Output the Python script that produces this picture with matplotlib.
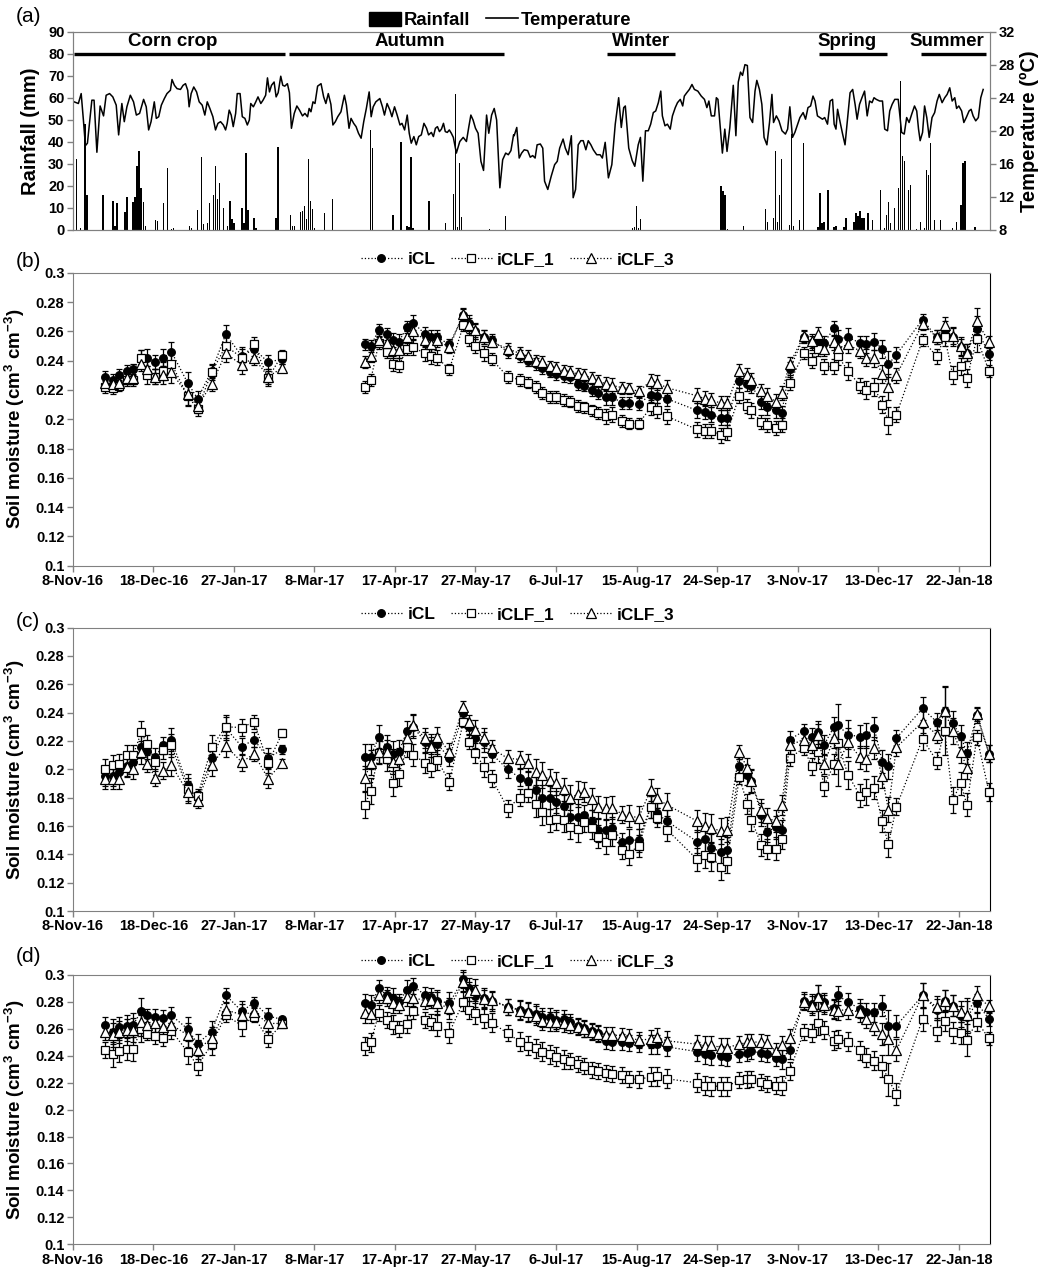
import datetime as dt
import numpy as np
import matplotlib
matplotlib.use("Agg")
import matplotlib.pyplot as plt
import matplotlib.dates as mdates
from matplotlib.patches import Patch
from matplotlib.lines import Line2D

plt.rcParams['font.family'] = ['Liberation Sans', 'DejaVu Sans']
plt.rcParams['font.weight'] = 'bold'
plt.rcParams['mathtext.fontset'] = 'custom'
plt.rcParams['mathtext.rm'] = 'Liberation Sans:bold'
plt.rcParams['mathtext.default'] = 'rm'

START = dt.date(2016, 11, 8)

# ---------------- panel (a) data: days since 8-Nov-16 ----------------
rain_day = [2, 4, 6, 7, 15, 20, 21, 22, 26, 27, 30, 31, 32, 33, 34, 35, 36, 41, 42, 45, 47, 49, 50,
            58, 59, 62, 64, 65, 67, 68, 70, 71, 72, 73, 75, 77, 78, 79, 80, 84, 85, 86, 87, 90, 91,
            101, 102, 108, 109, 110, 113, 114, 115, 116, 117, 118, 119, 120, 125, 129, 148, 149,
            159, 163, 166, 167, 168, 169, 177, 185, 189, 190, 191, 192, 193, 207, 215,
            278, 279, 280, 281, 282, 322, 323, 324, 325, 333, 344, 345, 348, 349, 350, 351, 352,
            356, 357, 358, 361, 363, 370, 371, 372, 373, 375, 378, 379, 383, 384, 388, 389, 390,
            391, 392, 393, 395, 397, 401, 403, 404, 405, 406, 408, 410, 411, 412, 413, 415, 416,
            419, 421, 423, 424, 425, 426, 428, 431, 437, 439, 441, 442, 443, 448]
rain_mm = [32, 1, 48, 16, 16, 13, 2, 12, 8, 15, 12.5, 15, 29, 36, 19, 12.5, 2, 4.5, 4, 12, 28, 0.5, 1,
           2, 1, 9, 33, 2.5, 3, 12, 16, 29, 14, 21.5, 10, 2, 13, 5, 3, 10, 3, 35, 9, 5.5, 1,
           5.5, 37.5, 7, 2, 2, 8, 8.5, 11, 5, 32, 13, 9.5, 1, 7.5, 14, 45.5, 37,
           7, 40, 2, 1.5, 33, 1, 13, 3, 16.5, 61.5, 1.5, 30.5, 6, 0.5, 6.5,
           0.8, 1.5, 11, 1, 5, 20, 17.5, 15.7, 0.3, 1.8, 9.6, 3.8, 5.3, 36, 3.8, 16, 32.4,
           2.3, 43.4, 2, 4.6, 39.6, 1.5, 16.7, 3, 3.8, 18.3, 1.5, 2, 1.5, 5.3, 3.8, 7.6, 6.1,
           8.4, 5.3, 5.6, 7.6, 4.4, 18.3, 1, 6.8, 12.9, 3, 9.9, 19, 67.7, 33.5, 31.2, 18.3, 20.5,
           0.5, 3.8, 0.8, 27.4, 25.1, 39.6, 4.6, 4.6, 0.8, 3.8, 11.1, 30.4, 31.5, 1.5]

temp_day = [0.7, 2.8, 4.2, 5.3, 6.3, 7.3, 8.6, 9.5, 10.6, 12.0, 13.6, 15.3, 16.6, 18.3, 19.9, 21.6,
            22.8, 24.4, 25.6, 26.9, 28.6, 30.2, 31.6, 33.2, 35.2, 36.5, 37.7, 38.9, 40.5, 41.5, 42.7,
            44.0, 45.5, 46.8, 48.5, 49.3, 50.5, 51.8, 53.5, 54.8, 56.0, 57.1, 57.8, 58.8, 60.1, 61.5,
            62.8, 64.3, 65.6, 66.8, 68.1, 69.6, 70.9, 72.1, 73.4, 74.8, 75.9, 76.7, 77.7, 78.7, 79.7,
            80.9, 81.7, 83.1, 84.2, 85.5, 86.7, 87.7, 88.4, 89.7, 90.9, 92.0, 93.4, 94.5, 95.8, 96.7,
            97.7, 98.7, 100.0, 101.0, 102.0, 103.3, 104.3, 105.3, 106.6, 107.6, 108.6, 110.0, 111.3,
            112.6, 114.1, 115.3, 116.6, 117.4, 118.3, 119.3, 120.3, 121.6, 123.3, 124.6, 125.7, 126.9,
            128.2, 129.2, 130.4, 131.6, 133.2, 134.9, 135.9, 137.2, 138.2, 139.5, 140.7, 141.9, 143.2,
            144.5, 145.8, 147.2, 148.2, 149.2, 150.5, 151.5, 152.5, 153.8, 154.8, 156.1, 157.5, 158.5,
            159.8, 161.1, 162.5, 163.5, 164.8, 166.1, 167.1, 168.1, 169.4, 170.6, 171.8, 173.1, 174.4,
            175.7, 176.7, 178.1, 179.1, 180.1, 181.1, 182.1, 183.1, 184.1, 185.0, 186.0, 187.0, 188.0,
            189.0, 190.5, 192.2, 193.9, 195.5, 196.7, 197.7, 198.8, 200.0, 201.3, 202.7, 204.0, 205.5,
            206.6, 208.0, 209.3, 210.5, 212.1, 213.5, 215.0, 216.3, 217.6, 218.9,
            219.2, 220.5, 221.7, 222.9, 224.2, 225.9, 227.2, 228.4, 229.6, 230.6, 232.2, 233.4, 234.3,
            235.9, 237.6, 239.3, 240.6, 241.8, 243.5, 244.6, 246.0, 247.6, 248.5, 249.7, 251.0, 252.3,
            253.5, 254.8, 256.0, 257.3, 258.5, 260.2, 261.9, 263.0, 264.4, 266.0, 267.7, 269.4, 271.1,
            272.4, 273.6, 274.4, 276.1, 277.8, 279.1, 280.8, 281.9, 283.1, 284.4, 285.8, 287.0, 288.3,
            289.5, 290.8, 292.0, 292.8, 294.1, 295.3, 296.7, 297.8, 299.2, 300.3, 301.7, 302.9, 303.7,
            304.9, 306.2, 307.5, 308.7, 310.4, 312.1, 313.7, 314.9, 315.9, 317.1, 318.7, 319.6, 320.4,
            321.6, 322.6, 323.8, 324.9, 326.3, 328.0, 329.3, 330.5, 331.6, 332.6, 333.8, 335.0, 336.3,
            337.6, 338.8, 339.7, 341.0, 342.2, 343.3, 344.7, 346.0, 347.2, 348.0, 349.4, 350.7, 352.2,
            353.9, 355.0, 356.1, 357.4, 358.6, 359.7, 361.1, 362.7, 363.9, 365.1, 366.4, 367.6, 368.6,
            369.8, 371.1, 372.3, 373.4, 374.8, 376.1, 377.3, 378.1, 379.0, 379.8, 381.1, 382.3, 383.5,
            384.8, 386.0, 387.3, 388.5, 389.5, 390.7, 391.9, 393.2, 394.5, 395.7, 396.9, 397.9, 399.0,
            400.7, 402.1, 403.2, 404.6, 405.7, 406.9, 408.2, 409.9, 411.6, 412.9, 414.1, 415.3, 416.6,
            418.0, 419.1, 420.0, 420.8, 422.0, 423.0, 424.1, 425.3, 426.7, 428.0, 429.2, 430.3, 431.7,
            433.0, 434.2, 435.5, 436.7, 438.0, 438.9, 440.0, 441.4, 442.5, 443.7, 445.1, 446.1, 447.1,
            448.4, 449.7, 450.9, 452.1]
temp_c = [23.5, 23.3, 24.5, 21.3, 18.2, 18.5, 21.5, 23.7, 23.7, 17.4, 23.0, 21.8, 24.3, 24.5, 24.1, 23.1,
          19.5, 23.3, 21.1, 22.9, 24.3, 23.5, 21.9, 22.1, 23.8, 22.9, 20.1, 21.1, 23.5, 21.5, 21.7,
          23.1, 23.9, 24.5, 24.9, 26.2, 25.5, 25.1, 25.0, 25.5, 25.7, 24.9, 22.9, 24.5, 25.3, 24.7,
          23.5, 23.1, 21.9, 23.5, 22.7, 21.7, 20.1, 20.9, 21.1, 20.7, 20.1, 20.9, 22.5, 21.9, 20.5,
          22.1, 24.5, 24.5, 21.7, 21.5, 20.7, 21.3, 23.3, 22.9, 23.5, 24.1, 23.3, 23.7, 24.3, 26.4,
          24.7, 25.5, 25.9, 24.1, 24.6, 26.6, 25.5, 25.4, 25.7, 24.6, 20.3, 22.1, 23.0,
          22.5, 21.8, 22.1, 21.7, 22.7, 22.3, 23.5, 23.3, 25.4, 25.7, 24.1, 23.3, 24.5,
          23.2, 20.7, 21.1, 21.7, 22.3, 24.3, 23.1, 20.3, 21.5, 20.9, 20.5, 19.7, 19.1,
          21.1, 22.7, 24.7, 21.7, 22.9, 23.5, 23.7, 23.9, 22.9, 21.9, 23.3, 22.5, 21.7,
          22.9, 21.9, 20.7, 20.9, 20.1, 21.9, 19.7, 18.5, 19.3, 18.3, 19.3, 19.5, 20.9,
          20.3, 19.5, 19.8, 19.3, 20.3, 20.5, 19.9, 20.2, 20.9, 19.9, 19.8, 20.1, 19.7,
          19.2, 17.3, 18.7, 19.2, 18.7, 20.5, 21.9, 21.3, 20.3, 19.7, 16.3, 15.2, 21.9,
          19.7, 21.9, 22.7, 21.3, 13.1, 16.5, 17.3, 17.1, 17.6, 19.5,
          19.4, 20.4, 16.7, 17.3, 17.7, 17.6, 16.8, 17.0, 16.7, 18.3, 18.4, 17.9, 13.9,
          12.9, 14.5, 15.9, 16.3, 17.9, 19.0, 17.9, 17.1, 19.4, 11.9, 12.9, 18.3, 18.8,
          18.8, 17.7, 18.8, 18.3, 17.7, 17.1, 17.1, 16.7, 18.6, 14.3, 15.9, 20.8, 24.0,
          20.4, 22.8, 23.0, 17.9, 16.4, 15.7, 18.3, 19.2, 13.9, 20.0, 20.0, 20.8, 22.2,
          22.4, 23.4, 24.8, 21.8, 20.6, 20.8, 20.2, 21.8, 22.8, 23.4, 23.8, 23.0, 24.2,
          24.6, 25.0, 25.6, 25.0, 24.8, 24.2, 23.8, 22.8, 23.6, 21.8, 21.8, 24.0, 23.8,
          20.2, 17.3, 20.2, 17.5, 20.4, 25.5, 19.4, 25.9, 27.1, 26.7, 28.0, 27.9, 21.6,
          21.0, 24.8, 26.1, 25.0, 23.2, 19.2, 18.3, 21.0, 24.4, 21.0, 21.8, 21.2, 20.0,
          19.6, 20.2, 22.9, 19.2, 19.8, 20.6, 21.6, 22.2, 21.4, 22.8, 23.0, 24.2, 23.6,
          21.8, 21.6, 21.4, 21.6, 20.8, 23.6, 23.8, 20.8, 20.2, 22.6, 21.0, 19.6, 18.3,
          21.6, 24.6, 25.0, 23.2, 21.4, 23.2, 24.0, 24.8, 21.8, 23.6, 23.4, 24.0, 23.8,
          23.6, 23.6, 20.2, 20.0, 22.4, 23.2, 23.8, 23.8, 19.8, 19.6, 21.6, 21.0, 22.0,
          23.0, 22.4, 20.2, 18.8, 19.8, 23.0, 21.6, 19.2, 21.6, 22.2, 23.6, 24.4, 23.4,
          24.0, 24.4, 25.2, 23.6, 24.0, 22.7, 23.0, 22.4, 21.0, 21.6, 22.4, 22.6, 21.8,
          21.2, 21.6, 24.0, 25.0]

season_name = ['Corn crop', 'Autumn', 'Winter', 'Spring', 'Summer']
season_start = [0.6, 107.4, 265.2, 370.7, 421.3]
season_end = [105.3, 214.4, 299.1, 404.3, 453.4]
season_text_day = [49.8, 167.3, 282.4, 384.6, 434.2]

# ---------------- soil moisture data ----------------
sm_day = [16, 20, 23, 27, 30, 34, 37, 41, 45, 49, 57, 62, 69, 76, 84, 90, 97, 104,
          145, 148, 152, 156, 159, 162, 166, 169, 175, 178, 181, 187, 194, 197, 200, 204, 208, 216,
          222, 226, 230, 233, 237, 240, 244, 247, 251, 254, 258, 261, 265, 268, 273, 276, 281, 287, 290, 295,
          310, 314, 317, 322, 325, 331, 335, 337, 342, 345, 349, 352, 356,
          363, 367, 370, 373, 378, 380, 385, 391, 394, 398, 402, 405, 409,
          422, 429, 433, 437, 441, 444, 449, 455]
series_names = ['iCL', 'iCLF_1', 'iCLF_3']

b_icl = [.229, .227, .230, .233, .234, .242, .242, .239, .242, .246, .225, .214, .233, .258, .243, .248, .239, .241,
         .251, .250, .261, .258, .254, .253, .263, .266, .258, .256, .256, .251, .271, .266, .260, .256, .254, .246,
         .243, .240, .2375, .235, .2325, .231, .2295, .229, .224, .223, .220, .218, .215, .215, .211, .211, .2105, .2165, .216, .214,
         .206, .205, .203, .201, .201, .226, .224, .223, .212, .208, .206, .204, .234,
         .256, .252, .253, .252, .262, .255, .256, .252, .251, .253, .248, .2375, .244,
         .268, .256, .261, .256, .249, .2455, .2615, .2445]
b_f1 = [.222, .221, .223, .227, .227, .242, .230, .229, .233, .238, .216, .207, .232, .250, .242, .251, .228, .244,
        .222, .227, .252, .246, .238, .237, .248, .249, .245, .243, .242, .234, .264, .255, .250, .245, .241, .229,
        .227, .225, .222, .218, .215, .215, .213, .212, .209, .208, .206, .204, .202, .203, .199, .197, .197, .208, .206, .202,
        .193, .192, .192, .189, .191, .216, .209, .206, .198, .196, .194, .196, .225,
        .245, .240, .248, .236, .236, .243, .233, .223, .220, .222, .210, .199, .203,
        .254, .243, .256, .230, .236, .228, .255, .233]
b_f3 = [.225, .224, .225, .228, .228, .238, .234, .229, .230, .232, .217, .209, .224, .245, .237, .242, .229, .235,
        .239, .243, .254, .252, .247, .247, .256, .260, .254, .251, .254, .249, .272, .264, .261, .256, .253, .248,
        .245, .243, .240, .239, .236, .235, .233, .232, .231, .230, .228, .226, .224, .223, .2215, .221, .219, .226, .225, .2215,
        .216, .214, .213, .211, .211, .233, .230, .2265, .219, .216, .212, .218, .2375,
        .257, .2535, .258, .248, .2525, .2485, .251, .2465, .242, .2415, .231, .222, .230,
        .265, .256, .264, .257, .250, .2455, .267, .2525]
b_err = [4, 4, 4, 4, 4, 5, 6, 5, 6, 7, 7, 5, 5, 6, 6, 5, 5, 3,
         4, 4, 4, 4, 5, 5, 4, 5, 5, 5, 5, 4, 4, 5, 5, 5, 4, 4,
         4, 4, 4, 4, 4, 4, 4, 4, 4, 4, 4, 4, 5, 5, 4, 4, 4, 5, 5, 5,
         5, 5, 5, 5, 5, 5, 5, 5, 5, 5, 5, 5, 5,
         4, 5, 5, 5, 5, 6, 6, 5, 6, 6, 6, 9, 5,
         4, 5, 6, 6, 6, 6, 9, 4]

c_icl = [.195, .195, .198, .202, .205, .216, .213, .209, .217, .221, .189, .180, .208, .229, .216, .221, .208, .214,
         .209, .209, .223, .216, .211, .2125, .227, .230, .2195, .218, .218, .208, .240, .230, .222, .2195, .211, .200,
         .194, .192, .1855, .180, .180, .177, .174, .1665, .1665, .168, .1635, .157, .157, .1585, .149, .150, .150, .1735, .169, .1635,
         .149, .1505, .1445, .142, .143, .202, .196, .192, .168, .156, .159, .157, .221,
         .227, .223, .226, .217, .230, .231, .2245, .223, .224, .229, .2055, .202, .222,
         .243, .2335, .2415, .2325, .2235, .2115, .238, .211]
c_f1 = [.200, .203, .2035, .210, .210, .226, .218, .205, .2135, .217, .186, .181, .216, .230, .2295, .2335, .2045, .2255,
        .1748, .1847, .2118, .2071, .1901, .1965, .2155, .2101, .2047, .2019, .2066, .1913, .2336, .2195, .2118, .2019, .1936, .1725,
        .180, .183, .1755, .170, .164, .165, .164, .1595, .158, .163, .1585, .1525, .1485, .154, .143, .1405, .146, .1735, .166, .1575,
        .1365, .1395, .138, .131, .1355, .1945, .1755, .1645, .1465, .144, .144, .1505, .208,
        .215, .202, .2125, .188, .2035, .2185, .196, .1815, .184, .187, .1635, .147, .1735,
        .2215, .206, .227, .1785, .190, .175, .2225, .184]
c_f3 = [.193, .193, .193, .2015, .200, .212, .204, .194, .199, .203, .184, .178, .203, .2165, .205, .211, .1935, .2045,
        .1936, .2047, .2125, .2125, .2054, .2071, .2219, .2313, .2219, .216, .223, .2125, .2442, .2336, .2278, .2219, .2148, .2078,
        .207, .2045, .198, .196, .1925, .190, .186, .180, .1825, .184, .179, .1735, .1725, .173, .168, .167, .166, .1855, .1795, .175,
        .1635, .160, .1585, .1565, .1575, .212, .201, .1915, .171, .1655, .1635, .175, .217,
        .221, .2175, .224, .2035, .222, .2035, .219, .2085, .2075, .215, .195, .1715, .2155,
        .2335, .2245, .241, .227, .2125, .201, .239, .211]
c_err = [7, 7, 7, 7, 7, 8, 6, 6, 6, 8, 8, 5, 8, 8, 6, 5, 7, 3,
         9, 9, 8, 8, 9, 8, 7, 8, 7, 7, 7, 6, 4, 5, 7, 7, 6, 6,
         6, 6, 9, 9, 8, 8, 8, 9, 9, 7, 8, 8, 8, 8, 6, 8, 8, 8, 7, 8,
         8, 9, 10, 9, 9, 5, 7, 8, 8, 7, 8, 7, 6,
         5, 6, 8, 7, 7, 15, 10, 8, 9, 8, 8, 9, 6,
         8, 6, 17, 9, 8, 8, 5, 6]

d_icl = [.263, .258, .261, .262, .263, .273, .270, .269, .268, .270, .260, .249, .258, .285, .273, .2795, .2695, .267,
         .279, .278, .290, .285, .283, .280, .289, .292, .285, .284, .281, .279, .297, .2905, .2845, .283, .2805, .2765,
         .2743, .2728, .2711, .2686, .2686, .2668, .2673, .2653, .2618, .2603, .2586, .2569, .2511, .2504, .2504, .2494, .2491, .2486, .2486, .2466,
         .2431, .2411, .2404, .2399, .2394, .2416, .2424, .2436, .2419, .2411, .2386, .2374, .2444,
         .281, .2786, .2835, .2798, .2753, .2848, .2798, .2748, .2723, .2723, .2773, .2623, .2623,
         .2848, .2743, .281, .2773, .2693, .2686, .2791, .2673]
d_f1 = [.244, .241, .2435, .245, .245, .260, .2565, .255, .2535, .2585, .243, .2325, .2485, .270, .2625, .269, .2525, .2635,
        .2473, .250, .2715, .2666, .2629, .2599, .2636, .2733, .2666, .2649, .2624, .2572, .2802, .274, .2715, .2678, .2646, .2567,
        .2504, .2474, .2454, .2429, .2411, .2394, .2374, .2362, .2337, .2324, .2292, .2287, .2274, .2262, .2254, .2229, .2224, .2244, .2249, .2229,
        .2199, .2179, .2174, .2174, .2174, .2219, .2224, .2229, .2207, .2192, .2179, .2179, .2287,
        .2574, .2569, .2643, .2591, .2511, .2524, .2504, .2441, .2386, .2362, .2324, .2224, .2117,
        .2673, .2586, .2661, .2574, .2569, .2519, .2653, .2529]
d_f3 = [.258, .2555, .2575, .259, .259, .265, .263, .264, .2615, .263, .2555, .2445, .253, .274, .2705, .2725, .264, .264,
        .2715, .271, .2851, .2827, .279, .2777, .2839, .2832, .2809, .2814, .279, .2752, .295, .2876, .2889, .2822, .2814, .2765,
        .2736, .2723, .2698, .2661, .2653, .2653, .2643, .2628, .2611, .2598, .2574, .2561, .2554, .2554, .2549, .2536, .2516, .2524, .2536, .2511,
        .2486, .2474, .2479, .2461, .2461, .2486, .2499, .2504, .2499, .2494, .2436, .2479, .2529,
        .2798, .2773, .2835, .2778, .2743, .2736, .2743, .2723, .2673, .2623, .2561, .2524, .2441,
        .2848, .2761, .2805, .2773, .2728, .2706, .2848, .2766]
d_err = [6, 9, 8, 8, 9, 10, 5, 6, 6, 6, 9, 7, 8, 5, 8, 4, 6, 2,
         7, 7, 6, 6, 7, 6, 7, 6, 6, 6, 8, 8, 7, 7, 8, 7, 7, 6,
         7, 7, 7, 7, 7, 7, 7, 6, 6, 6, 6, 6, 6, 6, 6, 6, 6, 7, 7, 7,
         7, 7, 7, 7, 7, 6, 6, 6, 6, 6, 6, 7, 7,
         6, 7, 9, 7, 7, 7, 7, 7, 7, 7, 8, 12, 8,
         9, 8, 8, 8, 8, 12, 7, 5]

# ---------------- helpers ----------------
x0 = mdates.date2num(START)
XMAX = 455.5
tick_days = np.arange(0, 441, 40)
tick_labels = []
for d in tick_days:
    day = START + dt.timedelta(days=int(d))
    tick_labels.append(f"{day.day}-{day:%b-%y}")

GRAY = '#808080'
TICK_FS = 10.5


def style_axis(ax, right_black=True):
    for s in ['left', 'top', 'bottom']:
        ax.spines[s].set_color(GRAY)
    ax.spines['right'].set_color('black' if right_black else GRAY)
    ax.tick_params(axis='both', direction='out', length=4, width=1, color=GRAY,
                   labelsize=TICK_FS, pad=2)
    for lab in ax.get_xticklabels() + ax.get_yticklabels():
        lab.set_fontweight('bold')


fig = plt.figure(figsize=(10.54, 12.69), dpi=100)
L, W = 0.069, 0.8703

# ---------------- panel (a) ----------------
ax_a = fig.add_axes([L, 0.8188, W, 0.1563])
ax_a.bar(x0 + np.array(rain_day), rain_mm, width=0.7, color='black', linewidth=0, zorder=2)
ax_a.set_ylim(0, 90)
ax_a.set_yticks(np.arange(0, 91, 10))
ax_a.set_xlim(x0, x0 + XMAX)
ax_a.set_xticks([])
ax_a.set_ylabel('Rainfall (mm)', fontsize=14.5, fontweight='bold', labelpad=6)
style_axis(ax_a, right_black=False)

for name, s, e, tx in zip(season_name, season_start, season_end, season_text_day):
    ax_a.plot([x0 + s, x0 + e], [80, 80], color='black', lw=2.4, solid_capstyle='butt', zorder=3)
    ax_a.text(x0 + tx, 81.5, name, ha='center', va='bottom', fontsize=13.5, fontweight='bold')

ax_t = ax_a.twinx()
ax_t.plot(x0 + np.array(temp_day), temp_c, color='black', lw=1.1)
ax_t.set_ylim(8, 32)
ax_t.set_yticks(np.arange(8, 33, 4))
ax_t.set_ylabel('Temperature (ºC)', fontsize=14.5, fontweight='bold', labelpad=4)
style_axis(ax_t, right_black=False)
ax_t.spines['right'].set_color(GRAY)

ax_t.legend(handles=[Patch(facecolor='black', edgecolor='black', label='Rainfall'),
                     Line2D([], [], color='black', lw=1.2, label='Temperature')],
            loc='lower center', bbox_to_anchor=(0.466, 0.975), ncol=2, frameon=False,
            prop={'weight': 'bold', 'size': 13.3}, handlelength=1.7, handletextpad=0.15,
            columnspacing=0.9, borderaxespad=0, handleheight=0.8)
fig.text(16 / 1054, 1 - 16 / 1269, '(a)', fontsize=15, fontweight='normal', va='center', ha='left')

# ---------------- panels (b)-(d) ----------------
sm_x = x0 + np.array(sm_day, dtype=float)
gaps = np.where(np.diff(sm_day) > 30)[0] + 1

markers = [dict(marker='o', ms=5.5, mfc='black', mec='black'),
           dict(marker='s', ms=5.5, mfc='white', mec='black'),
           dict(marker='^', ms=7, mfc='white', mec='black')]

panels = [
    ('(b)', [L, 0.5542, W, 0.2309], [b_icl, b_f1, b_f3], b_err, 261.7),
    ('(c)', [L, 0.2821, W, 0.2233], [c_icl, c_f1, c_f3], c_err, 621.7),
    ('(d)', [L, 0.0195, W, 0.2122], [d_icl, d_f1, d_f3], d_err, 956.7),
]

for tag, pos, series, err, tag_y in panels:
    ax = fig.add_axes(pos)
    e = np.array(err) / 1000.0
    handles = []
    for vals, mk, name in zip(series, markers, series_names):
        v = np.array(vals, dtype=float)
        ax.errorbar(sm_x, v, yerr=e, fmt='none', ecolor='black', elinewidth=0.9,
                    capsize=2.5, capthick=0.9, zorder=2, clip_on=False)
        xs = np.insert(sm_x, gaps, np.nan)
        ys = np.insert(v, gaps, np.nan)
        ax.plot(xs, ys, ls=':', lw=0.9, color='black', zorder=3, clip_on=False,
                markeredgewidth=0.9, **mk)
        handles.append(Line2D([], [], ls=':', lw=0.9, color='black', markeredgewidth=0.9,
                              label=name, **mk))
    ax.set_xlim(x0, x0 + XMAX)
    ax.set_ylim(0.1, 0.3)
    ax.set_yticks(np.arange(0.1, 0.3001, 0.02))
    ax.set_yticklabels([f"{t:g}" for t in np.round(np.arange(0.1, 0.3001, 0.02), 2)])
    ax.set_xticks(x0 + tick_days)
    ax.set_xticklabels(tick_labels)
    ax.set_ylabel('Soil moisture (cm$^3$ cm$^{-3}$)', fontsize=13.5, fontweight='bold', labelpad=6)
    style_axis(ax)
    ax.legend(handles=handles, loc='lower center', bbox_to_anchor=(0.485, 0.995), ncol=3,
              frameon=False, prop={'weight': 'bold', 'size': 12.4}, handlelength=2.4,
              handletextpad=0.3, columnspacing=0.9, borderaxespad=0)
    fig.text(16 / 1054, 1 - tag_y / 1269, tag, fontsize=15, fontweight='normal',
             va='center', ha='left')

fig.savefig('out.png', dpi=100)
